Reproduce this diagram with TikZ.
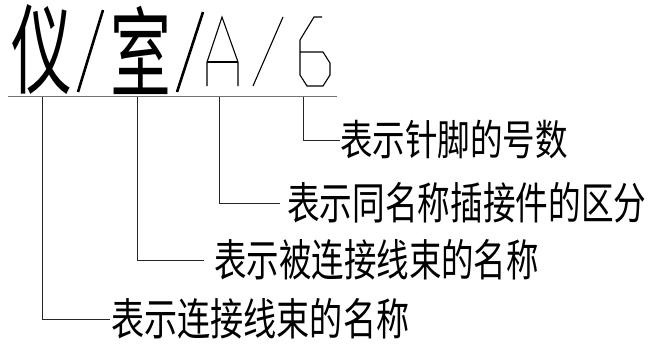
\documentclass[tikz,border=0pt]{standalone}
\usepackage{fontspec}
\newfontfamily\cjk{Noto Sans CJK SC}
\begin{document}
\begin{tikzpicture}[x=1pt,y=-1pt,
  lbl/.style={inner sep=0pt,anchor=west,font=\cjk\fontsize{44}{44}\selectfont},
  big/.style={inner sep=0pt,font=\cjk\fontsize{98}{98}\selectfont},
  conn/.style={draw=black!85,line width=1pt},
  hdr/.style={draw=black!55,line width=1.6pt},
  stroke/.style={draw=black,line width=1.1pt,line join=miter},
  slash/.style={draw=black,line width=2.6pt}]
\useasboundingbox (0,0) rectangle (652,349);
% header characters
\node[big] (yi) at (42,50) {\scalebox{0.62}[1]{仪}};
\node[big] (shi) at (141,50) {\scalebox{0.62}[1]{室}};
\coordinate (s1a) at (78,92); \coordinate (s1b) at (103,10);
\coordinate (s2a) at (177,92); \coordinate (s2b) at (203,12);
\draw[slash] (s1a) -- (s1b);
\draw[slash] (s2a) -- (s2b);
% A
\draw[stroke] (207,86) -- (207,62) -- (222,17) -- (238,62) -- (238,86);
\draw[stroke] (207,62) -- (238,62);
% thin slash
\draw[stroke] (253,86) -- (283,17);
% 6
\draw[stroke] (322,17) -- (314,17) -- (300,40) -- (300,75) -- (307,86) -- (323,86)
  -- (330,75) -- (330,63) -- (323,52) -- (300,52);
% header line
\coordinate (hl) at (8,96.5); \coordinate (hr) at (337,96.5);
\draw[hdr] (hl) -- (hr);
\coordinate (c1) at (42.5,96.5);
\coordinate (c2) at (137,96.5);
\coordinate (c3) at (219,96.5);
\coordinate (c4) at (303,96.5);
% labels
\node[lbl,font=\cjk\fontsize{42}{42}\selectfont] (t1) at (340,140) {\scalebox{0.775}[1]{表示针脚的号数}};
\node[lbl] (t2) at (287,203) {\scalebox{0.742}[1]{表示同名称插接件的区分}};
\node[lbl] (t3) at (214,260) {\scalebox{0.738}[1]{表示被连接线束的名称}};
\node[lbl] (t4) at (111,319) {\scalebox{0.753}[1]{表示连接线束的名称}};
% connectors
\draw[conn] (c4) |- (t1.west);
\draw[conn] (c3) |- ([xshift=-7pt]t2.west);
\draw[conn] (c2) |- ([xshift=-10pt]t3.west);
\draw[conn] (c1) |- ([xshift=-1pt]t4.west);
\end{tikzpicture}
\end{document}
